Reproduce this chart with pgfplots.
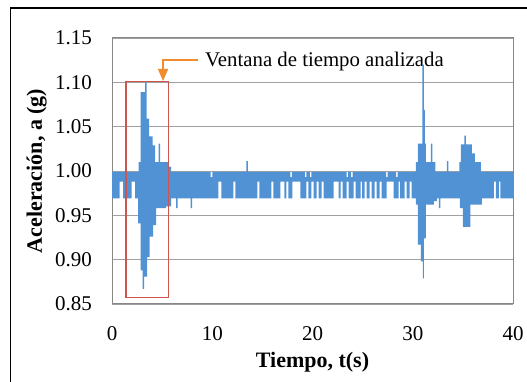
\documentclass[border=0pt]{standalone}
\usepackage{pgfplots}
\pgfplotsset{compat=1.18}
\usetikzlibrary{arrows.meta}
\usepackage{fontspec}
\setmainfont{Liberation Serif}

\definecolor{sigblue}{RGB}{80,146,212}
\definecolor{gridgray}{RGB}{160,160,160}
\definecolor{axisgray}{RGB}{135,135,135}
\definecolor{rectred}{RGB}{205,85,80}
\definecolor{arroworange}{RGB}{240,140,45}

\begin{document}
\begin{tikzpicture}
\path[use as bounding box] (0,0) rectangle (527pt,382pt);
\fill[white] (0,0) rectangle (527pt,382pt);
% outer frame of the figure
\draw[line width=1.8pt, black] (10.5pt,-2pt) -- (10.5pt,374pt) -- (530pt,374pt);

\begin{axis}[
  at={(112pt,78pt)}, anchor=south west,
  scale only axis, width=401pt, height=266pt,
  xmin=0, xmax=40, ymin=0.85, ymax=1.15,
  xtick={0,10,20,30,40},
  xticklabels={0,10,20,30,40},
  ytick={0.85,0.90,0.95,1.00,1.05,1.10,1.15},
  yticklabels={0.85,0.90,0.95,1.00,1.05,1.10,1.15},
  major tick length=0pt,
  ymajorgrids,
  grid style={gridgray, line width=0.9pt},
  axis line style={axisgray, line width=1pt},
  tick label style={font=\fontsize{21}{24}\selectfont, inner sep=0pt},
  xticklabel style={anchor=base, yshift=-37pt},
  yticklabel style={anchor=base east, xshift=-20pt, yshift=-7pt},
  xlabel={Tiempo, t(s)},
  ylabel={Aceleración, a (g)},
  label style={font=\bfseries\fontsize{22}{26}\selectfont, inner sep=0pt},
  xlabel style={at={(axis description cs:0.5,-0.2406)}, anchor=base},
  ylabel style={at={(axis description cs:-0.1746,0.5)}, anchor=base},
]

% annotation text (drawn first so the record passes over it)
\node[anchor=base west, inner sep=0pt, font=\fontsize{20.8}{24}\selectfont]
  at (axis cs:9.28,1.1179) {Ventana de tiempo analizada};

% acceleration record a (g) vs t (s), drawn as the band between its
% running maxima (left to right) and running minima (right to left)
\addplot[fill=sigblue, draw=none] coordinates {
(0,0.999)
(2.65,0.999)(2.65,1.010)(2.86,1.010)(2.86,1.089)(3.30,1.089)(3.30,1.100)
(3.45,1.100)(3.45,1.059)(3.70,1.059)(3.70,1.039)(4.06,1.039)(4.06,1.029)
(4.30,1.029)(4.30,1.010)(4.65,1.010)(4.65,1.031)(4.80,1.031)(4.80,1.010)
(5.60,1.010)(5.60,1.005)(5.90,1.005)(5.90,0.999)
(9.85,0.999)(9.85,0.993)(10.00,0.993)(10.00,0.999)
(13.40,0.999)(13.40,1.011)(13.55,1.011)(13.55,0.999)
(17.80,0.999)(17.80,0.993)(17.95,0.993)(17.95,0.999)
(19.25,0.999)(19.25,0.993)(19.40,0.993)(19.40,0.999)
(19.75,0.999)(19.75,0.993)(19.90,0.993)(19.90,0.999)
(23.40,0.999)(23.40,0.993)(23.55,0.993)(23.55,0.999)
(23.85,0.999)(23.85,0.993)(24.00,0.993)(24.00,0.999)
(27.35,0.999)(27.35,0.993)(27.50,0.993)(27.50,0.999)
(28.35,0.999)(28.35,0.993)(28.50,0.993)(28.50,0.999)
(30.30,0.999)(30.30,1.010)(30.50,1.010)(30.50,1.031)(30.95,1.031)(30.95,1.120)
(31.10,1.120)(31.10,1.069)(31.20,1.069)(31.20,1.031)(31.30,1.031)(31.30,1.010)
(31.80,1.010)(31.80,1.031)(31.95,1.031)(31.95,1.010)(32.25,1.010)(32.25,0.999)
(33.40,0.999)(33.40,1.011)(33.55,1.011)(33.55,0.999)
(34.65,0.999)(34.65,1.010)(34.80,1.010)(34.80,1.030)(35.15,1.030)(35.15,1.040)
(35.30,1.040)(35.30,1.030)(35.90,1.030)(35.90,1.020)(36.20,1.020)(36.20,1.010)
(36.80,1.010)(36.80,0.999)
(40,0.999)
(40,0.969)
(38.75,0.969)(38.75,0.988)(38.60,0.988)(38.60,0.969)
(38.30,0.969)(38.30,0.988)(38.10,0.988)(38.10,0.969)
(36.90,0.969)(36.90,0.962)(35.75,0.962)(35.75,0.937)(35.00,0.937)(35.00,0.958)
(34.70,0.958)(34.70,0.969)
(32.75,0.969)(32.75,0.958)(32.60,0.958)(32.60,0.969)
(32.40,0.969)(32.40,0.966)(32.10,0.966)(32.10,0.962)(31.30,0.962)(31.30,0.924)
(31.12,0.924)(31.12,0.879)(31.00,0.879)(31.00,0.898)(30.80,0.898)(30.80,0.917)
(30.50,0.917)(30.50,0.962)(30.30,0.962)(30.30,0.969)
(29.90,0.969)(29.90,0.988)(29.70,0.988)(29.70,0.969)
(29.40,0.969)(29.40,0.988)(29.20,0.988)(29.20,0.969)
(28.75,0.969)(28.75,0.988)(28.60,0.988)(28.60,0.969)
(28.10,0.969)(28.10,0.988)(27.40,0.988)(27.40,0.969)
(26.90,0.969)(26.90,0.988)(26.70,0.988)(26.70,0.969)
(26.40,0.969)(26.40,0.988)(26.20,0.988)(26.20,0.969)
(25.90,0.969)(25.90,0.988)(25.70,0.988)(25.70,0.969)
(25.40,0.969)(25.40,0.988)(25.20,0.988)(25.20,0.969)
(24.95,0.969)(24.95,0.988)(24.80,0.988)(24.80,0.969)
(24.30,0.969)(24.30,0.988)(24.10,0.988)(24.10,0.969)
(23.60,0.969)(23.60,0.988)(23.40,0.988)(23.40,0.969)
(23.00,0.969)(23.00,0.988)(22.80,0.988)(22.80,0.969)
(22.60,0.969)(22.60,0.988)(22.10,0.988)(22.10,0.969)
(21.10,0.969)(21.10,0.988)(20.90,0.988)(20.90,0.969)
(20.60,0.969)(20.60,0.988)(20.40,0.988)(20.40,0.969)
(20.10,0.969)(20.10,0.988)(19.90,0.988)(19.90,0.969)
(19.60,0.969)(19.60,0.988)(19.40,0.988)(19.40,0.969)
(18.80,0.969)(18.80,0.988)(18.00,0.988)(18.00,0.969)
(17.60,0.969)(17.60,0.988)(17.40,0.988)(17.40,0.969)
(17.20,0.969)(17.20,0.988)(16.80,0.988)(16.80,0.969)
(16.10,0.969)(16.10,0.988)(15.90,0.988)(15.90,0.969)
(14.70,0.969)(14.70,0.988)(14.50,0.988)(14.50,0.969)
(12.30,0.969)(12.30,0.988)(12.10,0.988)(12.10,0.969)
(10.90,0.969)(10.90,0.988)(10.60,0.988)(10.60,0.969)
(8.00,0.969)(8.00,0.958)(7.85,0.958)(7.85,0.969)
(6.55,0.969)(6.55,0.958)(6.40,0.958)(6.40,0.969)
(5.90,0.969)(5.90,0.960)(5.40,0.960)(5.40,0.958)(4.40,0.958)(4.40,0.939)
(4.10,0.939)(4.10,0.926)(3.75,0.926)(3.75,0.903)(3.50,0.903)(3.50,0.881)
(3.20,0.881)(3.20,0.867)(3.06,0.867)(3.06,0.888)(2.86,0.888)(2.86,0.941)
(2.60,0.941)(2.60,0.969)
(2.30,0.969)(2.30,0.988)(1.97,0.988)(1.97,0.969)
(1.10,0.969)(1.10,0.988)(0.75,0.988)(0.75,0.969)
(0,0.969)
} --cycle;

% analysed time window and its pointer
\draw[rectred, line width=1.2pt] (axis cs:1.4,0.857) rectangle (axis cs:5.62,1.1007);
\draw[arroworange, line width=1.3pt, -{Triangle[width=10pt,length=12pt]}]
  (axis cs:8.6,1.1252) -- (axis cs:5.09,1.1252) -- (axis cs:5.09,1.1015);
\end{axis}
\end{tikzpicture}
\end{document}
